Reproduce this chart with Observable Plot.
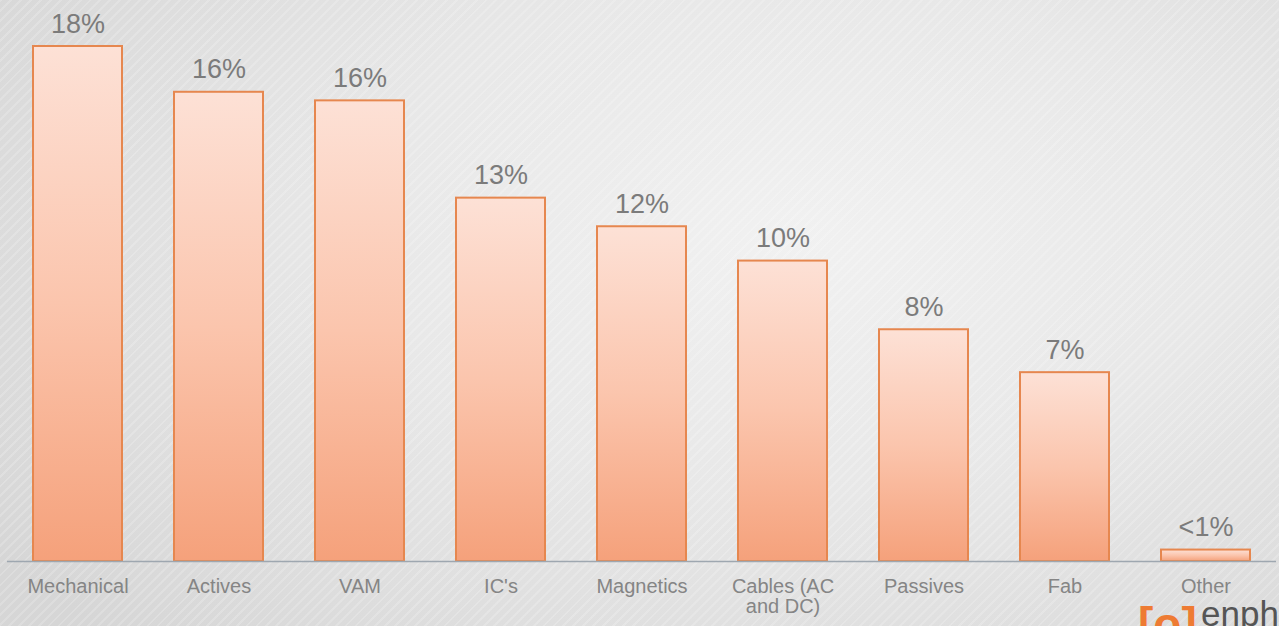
<!DOCTYPE html>
<html>
<head>
<meta charset="utf-8">
<script src="https://cdn.jsdelivr.net/npm/d3@7"></script>
<script src="https://cdn.jsdelivr.net/npm/@observablehq/plot@0.6"></script>
<style>
  html, body { margin: 0; padding: 0; width: 1279px; height: 626px; overflow: hidden; }
  body {
    position: relative;
    background:
      repeating-linear-gradient(135deg, rgba(255,255,255,0.18) 0px, rgba(255,255,255,0.18) 2px, rgba(0,0,0,0) 2px, rgba(0,0,0,0) 7px),
      radial-gradient(ellipse 75% 90% at 62% 38%, #f1f1f1 0%, #e8e8e8 45%, #d6d6d6 100%);
    font-family: "Liberation Sans", Arial, sans-serif;
  }
  #chart { position: absolute; left: 0; top: 0; }
  #logo1 { position: absolute; left: 1138px; top: 601px; font-size: 46px; font-weight: bold; line-height: 1; color: #ee7b33; white-space: nowrap; }
  #logo2 { position: absolute; left: 1201px; top: 596px; font-size: 35px; line-height: 1; color: #555; white-space: nowrap; }
</style>
</head>
<body>
<div id="chart"></div>
<div id="logo1">[o]</div>
<div id="logo2">enph</div>
<script>
const categories = ["Mechanical", "Actives", "VAM", "IC's", "Magnetics", "Cables (AC and DC)", "Passives", "Fab", "Other"];
const values = [18.0, 16.4, 16.1, 12.7, 11.7, 10.5, 8.1, 6.6, 0.4];
const valueLabels = ["18%", "16%", "16%", "13%", "12%", "10%", "8%", "7%", "<1%"];
const tickLabels = ["Mechanical", "Actives", "VAM", "IC's", "Magnetics", "Cables (AC\nand DC)", "Passives", "Fab", "Other"];

const data = categories.map((c, i) => ({category: c, value: values[i], label: valueLabels[i], tick: tickLabels[i]}));
const tickMap = new Map(data.map(d => [d.category, d.tick]));

const defs = () => {
  const g = d3.create("svg:defs");
  const lg = g.append("linearGradient").attr("id", "barGrad").attr("x1", 0).attr("y1", 0).attr("x2", 0).attr("y2", 1);
  lg.append("stop").attr("offset", "0%").attr("stop-color", "#fde1d6");
  lg.append("stop").attr("offset", "50%").attr("stop-color", "#fbc5ad");
  lg.append("stop").attr("offset", "100%").attr("stop-color", "#f5a17b");
  return g.node();
};

const chart = Plot.plot({
  width: 1279,
  height: 626,
  marginLeft: 7,
  marginRight: 3,
  marginTop: 46,
  marginBottom: 65,
  style: {background: "transparent", fontFamily: "'Liberation Sans', Arial, sans-serif"},
  x: {domain: categories, paddingInner: 0.37, paddingOuter: 0.185, axis: null, label: null},
  y: {domain: [0, 18], axis: null},
  marks: [
    defs,
    Plot.barY(data, {x: "category", y: "value", fill: "url(#barGrad)", stroke: "#e6874f", strokeWidth: 2}),
    Plot.ruleY([0], {stroke: "#9ea7b0", strokeWidth: 1.5}),
    Plot.text(data, {x: "category", y: "value", text: "label", lineAnchor: "bottom", dy: -14, fontSize: 27, fill: "#7b7b7b"}),
    Plot.axisX({tickSize: 0, tickPadding: 17, fontSize: 20, lineHeight: 1.0, color: "#858585", label: null, tickFormat: d => tickMap.get(d)})
  ]
});
document.getElementById("chart").append(chart);
</script>
</body>
</html>
